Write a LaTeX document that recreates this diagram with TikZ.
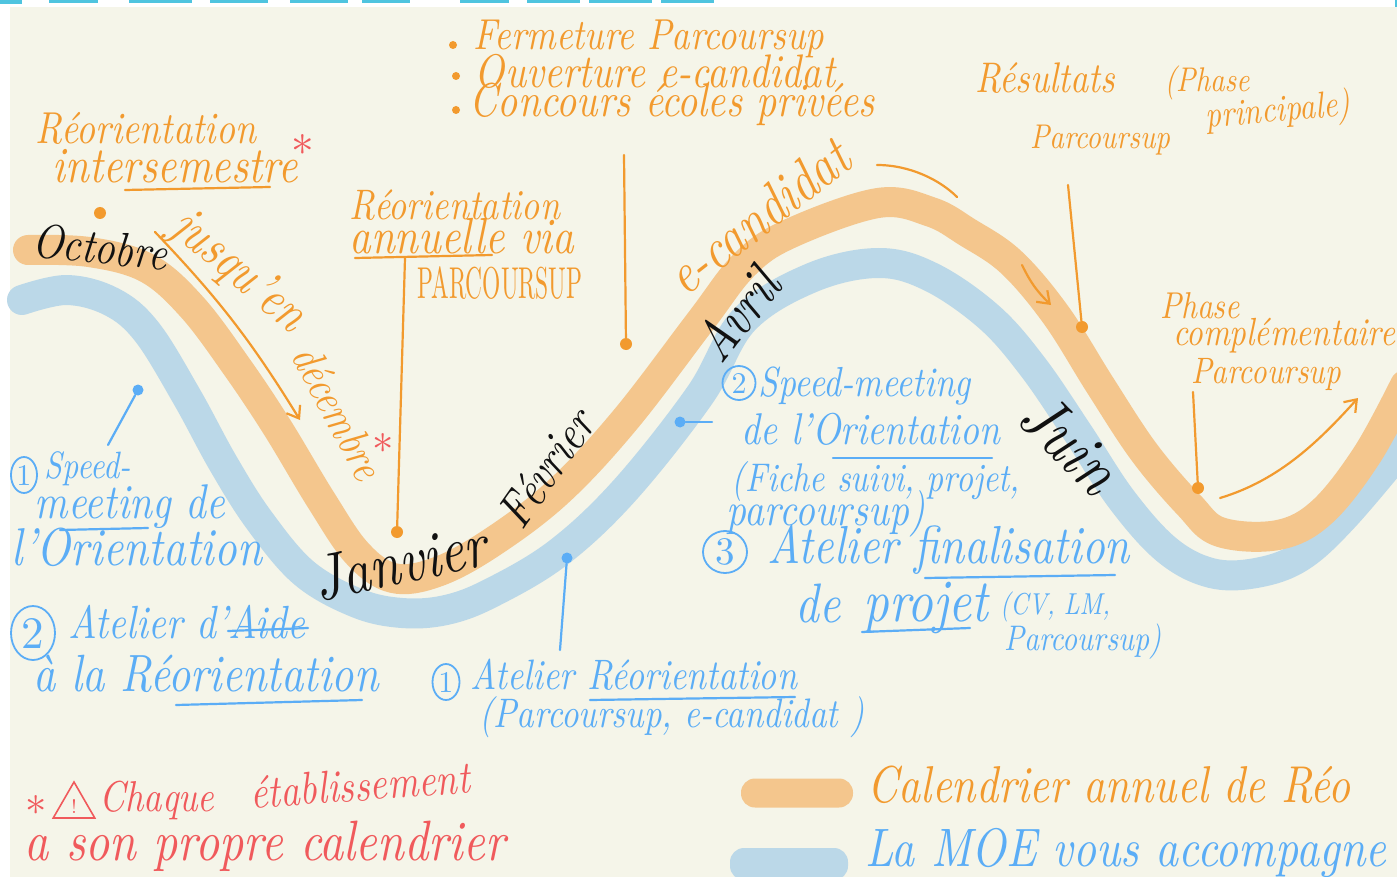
\documentclass[tikz,border=0pt]{standalone}
\usepackage{fontspec}
\usetikzlibrary{arrows.meta,shapes.geometric}
\definecolor{bgc}{HTML}{F5F5E9}
\definecolor{obnd}{HTML}{F4C68D}
\definecolor{bbnd}{HTML}{BBD8E8}
\definecolor{oink}{HTML}{F29A2E}
\definecolor{bink}{HTML}{5BADF6}
\definecolor{rink}{HTML}{F05A5C}
\definecolor{kink}{HTML}{111111}
\definecolor{cyn}{HTML}{4FC4DF}
\newcommand{\hw}[2]{\scalebox{1}[1.2]{\resizebox{#1pt}{!}{#2}}}
\newcommand{\hwv}[3]{\scalebox{1}[#2]{\resizebox{#1pt}{!}{#3}}}
\newcommand{\hgt}[2]{\resizebox{!}{#1pt}{#2}}
\begin{document}
\begin{tikzpicture}[x=1pt,y=-1pt,
  txt/.style={inner sep=0, font=\itshape},
  otxt/.style={txt, text=oink},
  btxt/.style={txt, text=bink},
  ktxt/.style={txt, text=kink},
  rtxt/.style={txt, text=rink},
  odot/.style={circle, fill=oink, inner sep=0, minimum size=12pt},
  bdot/.style={circle, fill=bink, inner sep=0, minimum size=11pt},
  obul/.style={circle, fill=oink, inner sep=0, minimum size=8pt},
  oline/.style={draw=oink, line width=2.2pt, line cap=round},
  bline/.style={draw=bink, line width=2.2pt, line cap=round},
  band/.style={line width=30pt, line cap=round, line join=round},
  bcirc/.style={ellipse, draw=bink, line width=1.8pt, inner sep=0, text=bink},
  rast/.style={inner sep=0, text=rink},
  harrow/.style={oline, -{Straight Barb[length=11pt,width=16pt,line width=2.2pt]}}
]
\useasboundingbox (0,0) rectangle (1397,877);
\fill[white] (0,0) rectangle (1397,877);
\fill[bgc] (10,7) rectangle (1397,877);
% cut-off title fragments
\foreach \a/\b in {49/98,129/192,210/268,290/348,362/410,460/509,527/580,589/652,661/714}
  \fill[cyn] (\a,0) rectangle (\b,3);
\fill[cyn] (0,0) rectangle (22,4);
\fill[cyn] (1395,0) rectangle (1397,7);

% bands
\draw[band, draw=bbnd] plot[smooth, tension=0.6] coordinates {(22,300) (67,290) (112,302) (147,332) (187,397) (223,463) (259,520) (304,573) (357,603) (402,613) (446,610) (491,593) (558,553) (625,490) (700,395) (744,320) (811,278) (878,263) (931,277) (989,317) (1033,367) (1078,433) (1122,500) (1167,550) (1211,573) (1256,573) (1300,557) (1344,517) (1405,445)};
\draw[band, draw=obnd] plot[smooth, tension=0.6] coordinates {(28,250) (89,252) (147,268) (192,307) (237,367) (277,427) (321,500) (357,553) (393,578) (437,572) (491,543) (558,492) (625,420) (700,322) (744,265) (789,234) (878,203) (931,212) (967,232) (1011,262) (1056,315) (1100,385) (1144,452) (1189,505) (1220,532) (1278,535) (1322,512) (1367,455) (1405,385)};

% ---------- orange annotations ----------
\node[otxt] (o1) at (146,128) {\hw{220}{Réorientation}};
\node[otxt] (o2) at (175,166) {\hw{245}{intersemestre}};
\coordinate (u1a) at (125,190); \coordinate (u1b) at (270,187);
\draw[oline] (u1a) -- (u1b);
\node[rast] (ast1) at (303,152) {\hgt{34}{*}};
\node[odot] (dot0) at (100,213) {};
\node[otxt, rotate=-40] (o3) at (238,272) {\hw{160}{jusqu'en}};
\node[otxt, rotate=-62] (o4) at (338,412) {\hw{145}{décembre}};
\node[rast] (ast2) at (383,449) {\hgt{32}{*}};
\coordinate (a1s) at (155,232); \coordinate (a1e) at (300,420);
\draw[harrow] (a1s) to[bend left=6] (a1e);

\node[otxt] (o5) at (455,205) {\hw{210}{Réorientation}};
\node[otxt] (o6) at (462,236) {\hw{225}{annuelle via}};
\coordinate (u2a) at (355,258); \coordinate (u2b) at (492,255);
\draw[oline] (u2a) -- (u2b);
\node[otxt, font=\upshape] (o7) at (500,283) {\hwv{165}{1.9}{PARCOURSUP}};
\node[odot] (dotJ) at (397,532) {};
\coordinate (l1) at (405,258);
\draw[oline] (l1) -- (dotJ);

\node[obul] (b1) at (453,45) {};
\node[obul] (b2) at (456,76) {};
\node[obul] (b3) at (456,110) {};
\node[otxt] (o8) at (649,39) {\hw{350}{Fermeture Parcoursup}};
\node[otxt] (o9) at (655,71) {\hw{360}{Ouverture e-candidat}};
\node[otxt] (o10) at (672,104) {\hw{405}{Concours écoles privées}};
\node[odot] (dotF) at (626,344) {};
\coordinate (l2) at (624,155);
\draw[oline] (l2) -- (dotF);

\node[otxt, rotate=38] (o11) at (758,216) {\hw{215}{e-candidat}};
\coordinate (c1s) at (877,165); \coordinate (c1e) at (957,197);
\draw[oline] (c1s) .. controls (910,165) and (940,180) .. (c1e);

\node[otxt] (o12) at (1045,78) {\hw{140}{Résultats}};
\node[otxt] (o13) at (1207,83) {\hw{85}{(Phase}};
\node[otxt, rotate=5] (o14) at (1278,112) {\hw{145}{principale)}};
\node[otxt] (o15) at (1100,140) {\hw{140}{Parcoursup}};
\node[odot] (dotR) at (1082,327) {};
\coordinate (l3) at (1068,185);
\draw[oline] (l3) -- (dotR);
\coordinate (a2s) at (1022,265); \coordinate (a2e) at (1051,305);
\draw[harrow] (a2s) to[bend right=10] (a2e);

\node[otxt] (o16) at (1200,306) {\hw{80}{Phase}};
\node[otxt] (o17) at (1284,336) {\hw{222}{complémentaire}};
\node[otxt] (o18) at (1266,375) {\hw{150}{Parcoursup}};
\node[odot] (dotP) at (1198,488) {};
\coordinate (l4) at (1193,392);
\draw[oline] (l4) -- (dotP);
\coordinate (a3s) at (1220,498); \coordinate (a3e) at (1358,398);
\draw[harrow] (a3s) .. controls (1280,480) and (1320,440) .. (a3e);

% ---------- months ----------
\node[ktxt, rotate=-6] (m1) at (100,247) {\hw{135}{Octobre}};
\node[ktxt, rotate=12] (m2) at (400,562) {\hw{175}{Janvier}};
\node[ktxt, rotate=55] (m3) at (546,468) {\hw{130}{Février}};
\node[ktxt, rotate=52] (m4) at (737,314) {\hw{100}{Avril}};
\node[ktxt, rotate=-45] (m5) at (1070,443) {\hw{110}{Juin}};

% ---------- blue annotations ----------
\node[bdot] (bd1) at (138,390) {};
\coordinate (bl1) at (108,445);
\draw[bline] (bd1) -- (bl1);
\node[bcirc, minimum width=26pt, minimum height=36pt] (n1) at (24,475) {\hgt{20}{1}};
\node[btxt] (s1) at (88,469) {\hw{86}{Speed-}};
\node[btxt] (s2) at (130,507) {\hw{190}{meeting de}};
\coordinate (u3a) at (60,530); \coordinate (u3b) at (148,528);
\draw[bline] (u3a) -- (u3b);
\node[btxt] (s3) at (137,547) {\hw{250}{l'Orientation}};

\node[bcirc, minimum width=44pt, minimum height=54pt] (n2) at (33,633) {\hgt{30}{2}};
\node[btxt] (s4) at (187,622) {\hw{236}{Atelier d'Aide}};
\coordinate (u4a) at (228,631); \coordinate (u4b) at (308,628);
\draw[bline] (u4a) -- (u4b);
\node[btxt] (s5) at (206,674) {\hw{345}{à la Réorientation}};
\coordinate (u5a) at (176,705); \coordinate (u5b) at (362,700);
\draw[bline] (u5a) -- (u5b);

\node[bdot] (bd2) at (567,558) {};
\coordinate (bl2) at (560,650);
\draw[bline] (bd2) -- (bl2);
\node[bcirc, minimum width=27pt, minimum height=36pt] (n3) at (446,682) {\hgt{20}{1}};
\node[btxt] (s6) at (634,675) {\hw{326}{Atelier Réorientation}};
\coordinate (u6a) at (590,700); \coordinate (u6b) at (795,697);
\draw[bline] (u6a) -- (u6b);
\node[btxt] (s7) at (672,717) {\hw{385}{(Parcoursup, e-candidat )}};

\node[bdot] (bd3) at (680,422) {};
\coordinate (bl3) at (712,422);
\draw[bline] (bd3) -- (bl3);
\node[bcirc, minimum width=33pt, minimum height=34pt] (n4) at (739,383) {\hgt{20}{2}};
\node[btxt] (s8) at (865,386) {\hw{212}{Speed-meeting}};
\node[btxt] (s9) at (871,429) {\hw{258}{de l'Orientation}};
\coordinate (u7a) at (833,458); \coordinate (u7b) at (992,458);
\draw[bline] (u7a) -- (u7b);
\node[btxt] (s10) at (876,481) {\hw{288}{(Fiche suivi, projet,}};
\node[btxt] (s11) at (826,514) {\hw{198}{parcoursup)}};

\node[bcirc, minimum width=44pt, minimum height=42pt] (n5) at (725,552) {\hgt{26}{3}};
\node[btxt] (s12) at (949,550) {\hw{362}{Atelier finalisation}};
\coordinate (u8a) at (925,578); \coordinate (u8b) at (1115,575);
\draw[bline] (u8a) -- (u8b);
\node[btxt] (s13) at (818,603) {\hw{45}{de}};
\node[btxt] (s14) at (926,608) {\hw{125}{projet}};
\coordinate (u9a) at (862,632); \coordinate (u9b) at (970,628);
\draw[bline] (u9a) -- (u9b);
\node[btxt] (s15) at (1055,607) {\hw{110}{(CV, LM,}};
\node[btxt] (s16) at (1083,642) {\hw{157}{Parcoursup)}};

% ---------- red note ----------
\node[rast] (ast3) at (36,811) {\hgt{32}{*}};
\node[regular polygon, regular polygon sides=3, draw=rink, line width=1.6pt, minimum size=48pt, inner sep=0, text=rink] (warn) at (74,806) {\hgt{14}{!}};
\node[rtxt] (r1) at (157,800) {\hw{115}{Chaque}};
\node[rtxt, rotate=4] (r2) at (360,785) {\hw{220}{établissement}};
\node[rtxt] (r3) at (265,846) {\hw{480}{a son propre calendrier}};

% ---------- legend ----------
\node[fill=obnd, rounded corners=14pt, minimum width=112pt, minimum height=29pt, inner sep=0] (lg1) at (797,793) {};
\node[otxt] (lt1) at (1109,785) {\hw{482}{Calendrier annuel de Réo}};
\node[fill=bbnd, rounded corners=14pt, minimum width=118pt, minimum height=32pt, inner sep=0] (lg2) at (789,864) {};
\node[btxt] (lt2) at (1126,853) {\hw{520}{La MOE vous accompagne}};
\end{tikzpicture}
\end{document}
